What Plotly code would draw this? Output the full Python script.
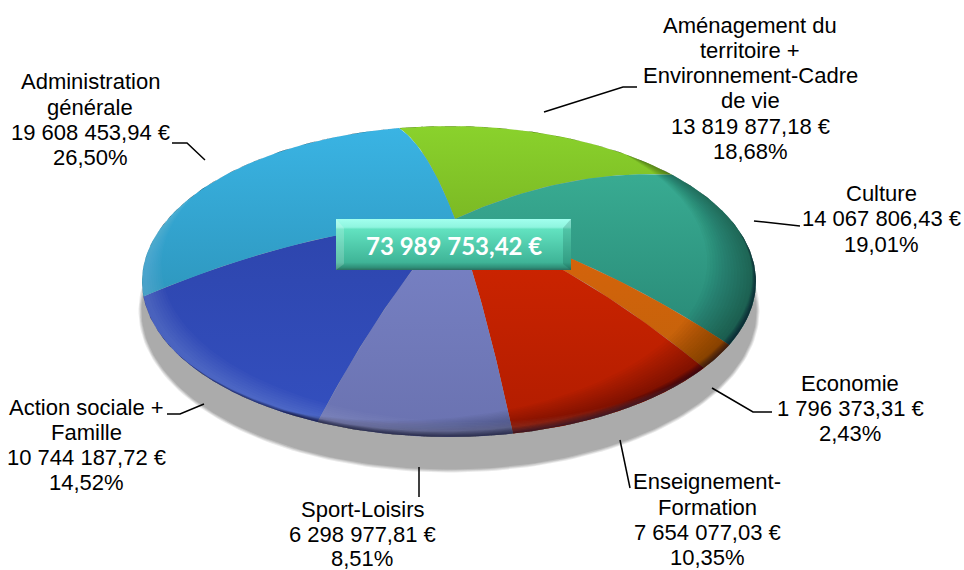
import numpy as np
import plotly.graph_objects as go

# ---- data ----
categories = ["Aménagement du territoire + Environnement-Cadre de vie", "Culture", "Economie",
              "Enseignement-Formation", "Sport-Loisirs", "Action sociale + Famille",
              "Administration générale"]
amounts = [13819877.18, 14067806.43, 1796373.31, 7654077.03, 6298977.81, 10744187.72, 19608453.94]
amount_labels = ["13 819 877,18 €", "14 067 806,43 €", "1 796 373,31 €", "7 654 077,03 €",
                 "6 298 977,81 €", "10 744 187,72 €", "19 608 453,94 €"]
percent_labels = ["18,68%", "19,01%", "2,43%", "10,35%", "8,51%", "14,52%", "26,50%"]
name_lines = [["Aménagement du", "territoire +", "Environnement-Cadre", "de vie"], ["Culture"], ["Economie"],
              ["Enseignement-", "Formation"], ["Sport-Loisirs"], ["Action sociale +", "Famille"],
              ["Administration", "générale"]]
total_label = "73 989 753,42 €"
top_colors = ["#8AD22C", "#3DB59A", "#E8640C", "#E02A00", "#7F8AD0", "#2A40A4", "#3AB4E4"]
low_colors = ["#5A8012", "#1F7566", "#B8620A", "#B01C00", "#6A72B0", "#3450C0", "#2480A0"]

# ---- layout of the drawing (pixels) ----
CX, CY, A, B = 449, 281.5, 307, 155.5
APEX = (455, 219)
K = -0.20
START = -11.5
LIFT = 14
label_pos = [(750, [25, 50, 75, 100, 126, 151]), (881, [193, 218, 244]), (850, [383, 408, 433]),
             (707, [481, 507, 532, 557]), (362, [509, 534, 558]), (86, [407, 432, 457, 482]),
             (90, [81, 107, 132, 157])]
leaders = [[(544, 112), (623, 87), (637, 87)], [(754, 221), (800, 226)], [(712, 388), (753, 412), (772, 412)],
           [(620, 440), (630, 488)], [(419, 467), (419, 497)], [(204, 404), (180, 414), (167, 414)],
           [(205, 160), (187, 143), (172, 143)]]
FS = 22


def perim(theta_deg):
    t = np.radians(theta_deg)
    u, v = np.sin(t), -np.cos(t)
    d = 1 + K * v
    return CX + A * u * np.sqrt(1 - K * K) / d, CY + B * (v + K) / d


def radial(px, py, reverse=False):
    r = np.linspace(0, 1, 40)
    x = APEX[0] + r * (px - APEX[0])
    y = APEX[1] + r * (py - APEX[1]) - LIFT * 4 * r * (1 - r)
    return (x[::-1], y[::-1]) if reverse else (x, y)


def ellipse(cx, cy, a, b, n=240):
    t = np.linspace(0, 2 * np.pi, n)
    return cx + a * np.cos(t), cy + b * np.sin(t)


def band(w1, w2, phi0, p):
    """Rim band between relative depths w1 and w2, strongest at ellipse angle phi0 and zero beyond +-90 deg."""
    t = np.linspace(0, 2 * np.pi, 360)
    f = np.clip(np.cos(t - np.radians(phi0)), 0, 1) ** p
    r1, r2 = 1 - w1 * f, 1 - w2 * f
    x = CX + A * np.r_[r1 * np.cos(t), (r2 * np.cos(t))[::-1]]
    y = CY + B * np.r_[r1 * np.sin(t), (r2 * np.sin(t))[::-1]]
    return x, y


fig = go.Figure()


def poly(x, y, color=None, grad=None):
    kw = dict(x=x, y=y, mode="lines", fill="toself", line=dict(width=0), hoverinfo="skip", showlegend=False)
    if grad:
        kw["fillgradient"] = grad
        kw["fillcolor"] = "rgba(0,0,0,0)"
    else:
        kw["fillcolor"] = color
    fig.add_trace(go.Scatter(**kw))


# shadow
for ds, col in [(3, "rgba(171,171,171,0.25)"), (2, "rgba(171,171,171,0.35)"), (1, "rgba(171,171,171,0.55)"),
                (0, "#ABABAB")]:
    sx, sy = ellipse(449, 311, 307.5 + ds, 158.5 + ds)
    poly(sx, sy, col)

# wedges
vals = np.array(amounts)
edges = START + np.r_[0, np.cumsum(vals)] / vals.sum() * 360
for i in range(len(vals)):
    th = np.linspace(edges[i], edges[i + 1], 80)
    px, py = perim(th)
    x0, y0 = radial(px[0], py[0])
    x1, y1 = radial(px[-1], py[-1], reverse=True)
    poly(np.r_[x0, px, x1], np.r_[y0, py, y1],
         grad=dict(type="vertical", start=126, stop=437,
                   colorscale=[[0, top_colors[i]], [1, low_colors[i]]]))

# rim shading
for w in np.linspace(0.012, 0.2, 16):
    x, y = band(0, w, 35, 0.9)
    poly(x, y, "rgba(0,20,20,0.024)")
for w in np.linspace(0.03, 0.12, 8):
    x, y = band(0.0, w, 125, 1.0)
    poly(x, y, "rgba(255,255,255,0.018)")
for w in np.linspace(0.005, 0.04, 7):
    x, y = band(0, w, 65, 1.3)
    poly(x, y, "rgba(0,0,30,0.09)")

# central total box
bx0, bx1, by0, by1 = 336, 571, 219, 270
fig.add_trace(go.Scatter(x=[bx0, bx1, bx1, bx0, bx0], y=[by0, by0, by1, by1, by0], mode="lines", fill="toself",
                         line=dict(width=0), hoverinfo="skip", showlegend=False, fillcolor="rgba(0,0,0,0)",
                         fillgradient=dict(type="vertical", start=by0, stop=by1,
                                           colorscale=[[0, "#A2FFEE"], [0.16, "#8FF5DF"], [0.2, "#62E2C0"],
                                                       [0.85, "#3FB497"], [0.95, "#2F8F78"], [1, "#2A6F60"]])))
poly([bx0, bx0 + 8, bx0 + 8, bx0], [by0, by0 + 9, by1 - 6, by1], "rgba(255,255,255,0.18)")
poly([bx1, bx1 - 8, bx1 - 8, bx1], [by0, by0 + 9, by1 - 6, by1], "rgba(0,60,50,0.18)")

# leaders
for pts in leaders:
    fig.add_trace(go.Scatter(x=[p[0] for p in pts], y=[p[1] for p in pts], mode="lines",
                             line=dict(color="black", width=1.5), hoverinfo="skip", showlegend=False))

annots = [dict(x=(bx0 + bx1) / 2, y=(by0 + by1) / 2 + 1, text="<b>%s</b>" % total_label, showarrow=False,
               font=dict(family="Lato", size=24, color="white"), xref="x", yref="y")]
for i, (cx, ys) in enumerate(label_pos):
    lines = name_lines[i] + [amount_labels[i], percent_labels[i]]
    for line, y in zip(lines, ys):
        annots.append(dict(x=cx, y=y, text=line, showarrow=False, xref="x", yref="y",
                           font=dict(family="Liberation Sans", size=FS, color="black")))

fig.update_layout(width=964, height=570, margin=dict(l=0, r=0, t=0, b=0), paper_bgcolor="white",
                  plot_bgcolor="white", annotations=annots, showlegend=False,
                  xaxis=dict(range=[0, 964], visible=False, fixedrange=True),
                  yaxis=dict(range=[570, 0], visible=False, fixedrange=True))
fig.write_html("out.html", config=dict(displayModeBar=False),
               post_script="document.body.style.margin='0';document.documentElement.style.overflow='hidden';")
